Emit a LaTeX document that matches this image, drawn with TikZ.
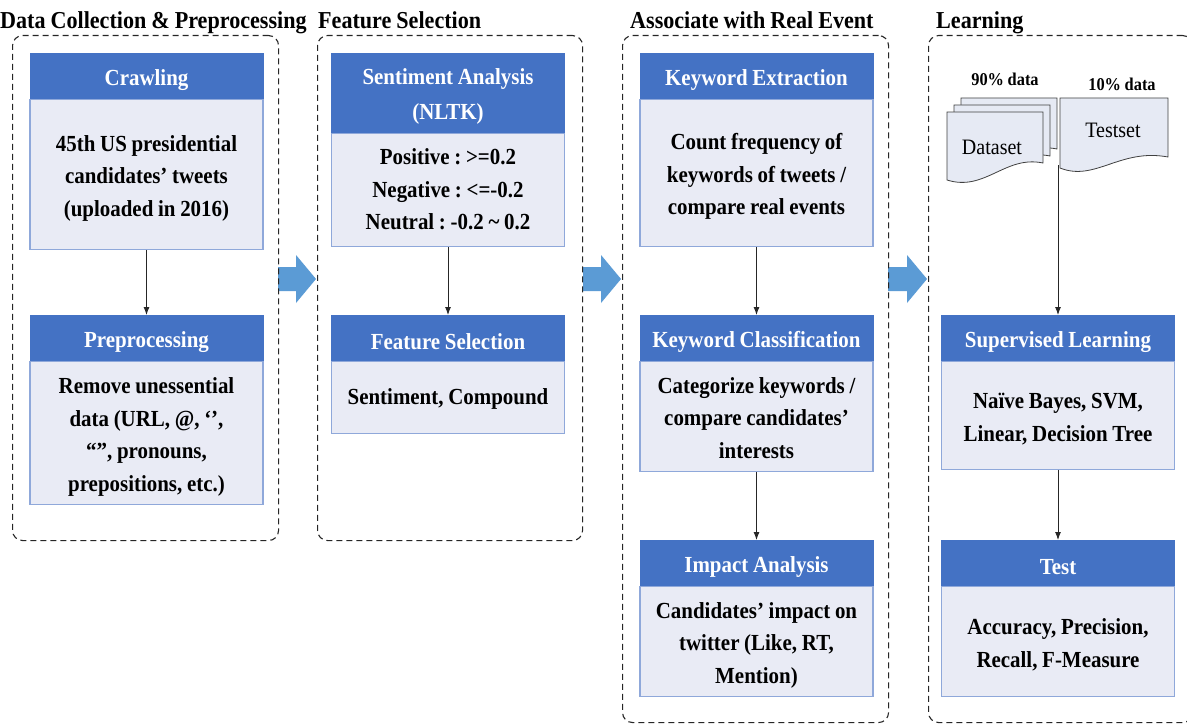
\documentclass[tikz,border=0pt]{standalone}
\usepackage{fontspec}
\setmainfont{Liberation Serif}[FakeStretch=0.91,WordSpace=0.9]
\usetikzlibrary{arrows.meta}
\definecolor{hdr}{HTML}{4472C4}
\definecolor{bdy}{HTML}{E9EBF5}
\definecolor{bdr}{HTML}{8FA8DA}
\definecolor{barrow}{HTML}{5B9BD5}
\definecolor{docfill}{HTML}{E6EAF4}
\newcommand\hlow[1]{\raisebox{-4pt}[\height][\depth]{#1}}
\newcommand\blines[2][3pt]{\raisebox{-#1}[\height][\depth]{\begin{tabular}{@{}c@{}}#2\end{tabular}}}
\begin{document}
\frenchspacing
\begin{tikzpicture}[x=1pt,y=-1pt,
 panel/.style={draw=black!85, dash pattern=on 6pt off 4pt, line width=1.1pt, rounded corners=10pt, anchor=north west, inner sep=0pt},
 ptitle/.style={anchor=base west, inner sep=0pt, font=\fontsize{24.3}{28}\selectfont\bfseries},
 hbox/.style={fill=hdr, draw=hdr, line width=0.8pt, minimum width=233pt, anchor=north, inner sep=0pt, align=center, text=white, font=\fontsize{23}{32.5}\selectfont\bfseries},
 bbox/.style={fill=bdy, draw=bdr, line width=1.2pt, minimum width=233pt, anchor=north, inner sep=0pt, align=center, font=\fontsize{23}{32.5}\selectfont\bfseries},
 conn/.style={draw=black!85, line width=0.9pt, -{Latex[length=8pt,width=6pt]}},
 docst/.style={draw=black!75, line width=0.8pt, fill=docfill},
 doclabel/.style={inner sep=0pt, font=\fontsize{18}{20}\selectfont\bfseries},
 doctext/.style={inner sep=0pt, font=\fontsize{22}{24}\selectfont},
 pics/docsheet/.style={code={\draw[docst] (0,0) -- (96,0) -- (96,51) .. controls (58,43) and (38,80) .. (0,68) -- cycle;}}
]
\clip (0,0) rectangle (1187,725);
% block arrows between stages
\fill[barrow] (278,267) -- (296,267) -- (296,255) -- (316,279) -- (296,303) -- (296,291) -- (278,291) -- cycle;
\fill[barrow] (583,267) -- (601,267) -- (601,255) -- (621,279) -- (601,303) -- (601,291) -- (583,291) -- cycle;
\fill[barrow] (888,267) -- (907,267) -- (907,255) -- (927,279) -- (907,303) -- (907,291) -- (888,291) -- cycle;

% panels
\node[panel, minimum width=266pt, minimum height=505pt] (p1) at (12,35) {};
\node[panel, minimum width=265pt, minimum height=505pt] (p2) at (317,35) {};
\node[panel, minimum width=266pt, minimum height=687pt] (p3) at (622,35) {};
\node[panel, minimum width=264pt, minimum height=687pt] (p4) at (928,35) {};

% titles
\node[ptitle] (t1) at (0,29) {Data Collection \& Preprocessing};
\node[ptitle] (t2) at (318,29) {Feature Selection};
\node[ptitle] (t3) at (630,29) {Associate with Real Event};
\node[ptitle] (t4) at (936,29) {Learning};

% stage 1
\node[hbox, minimum height=45pt] (crh) at (146.5,53) {\hlow{Crawling}};
\node[bbox, minimum height=150pt] (crb) at (crh.south) {\blines{45th US presidential\\candidates’ tweets\\(uploaded in 2016)}};
\node[hbox, minimum height=45pt] (prh) at (146.5,315) {\hlow{Preprocessing}};
\node[bbox, minimum height=143pt] (prb) at (prh.south) {\blines{Remove unessential\\data (URL, @, ‘’,\\“”, pronouns,\\prepositions, etc.)}};

% stage 2
\node[hbox, minimum height=79pt] (sah) at (448,53) {\raisebox{-2pt}[\height][\depth]{\def\arraystretch{1.08}\begin{tabular}{@{}c@{}}Sentiment Analysis\\(NLTK)\end{tabular}}};
\node[bbox, minimum height=113pt] (sab) at (sah.south) {\blines[1pt]{Positive : >=0.2\\Negative : <=-0.2\\Neutral : -0.2 \textasciitilde{} 0.2}};
\node[hbox, minimum height=45pt] (fsh) at (448,315) {\hlow{Feature Selection}};
\node[bbox, minimum height=72pt] (fsb) at (fsh.south) {\blines[1pt]{Sentiment, Compound}};

% stage 3
\node[hbox, minimum height=45pt] (keh) at (756.5,53) {\hlow{Keyword Extraction}};
\node[bbox, minimum height=147pt] (keb) at (keh.south) {\blines{Count frequency of\\keywords of tweets /\\compare real events}};
\node[hbox, minimum height=45pt] (kch) at (756.5,315) {\hlow{Keyword Classification}};
\node[bbox, minimum height=110pt] (kcb) at (kch.south) {\blines{Categorize keywords /\\compare candidates’\\interests}};
\node[hbox, minimum height=45pt] (iah) at (756.5,540) {\hlow{Impact Analysis}};
\node[bbox, minimum height=110pt] (iab) at (iah.south) {\blines{Candidates’ impact on\\twitter (Like, RT,\\Mention)}};

% stage 4: documents
\pic at (961,98) {docsheet};
\pic at (954,105) {docsheet};
\pic at (947,112) {docsheet};
\draw[docst] (1060,98) -- (1168,98) -- (1168,157) .. controls (1120,148) and (1095,182) .. (1060,168) -- cycle;
\node[doctext] (dset) at (992,147) {Dataset};
\node[doctext] (tset) at (1113,130) {Testset};
\node[doclabel] (l90) at (1005,79) {90\% data};
\node[doclabel] (l10) at (1122,84) {10\% data};
\coordinate (dsrc) at (1058,165);

\node[hbox, minimum height=45pt] (slh) at (1058,315) {\hlow{Supervised Learning}};
\node[bbox, minimum height=108pt] (slb) at (slh.south) {\blines{Naïve Bayes, SVM,\\Linear, Decision Tree}};
\node[hbox, minimum height=45pt] (teh) at (1058,540) {\hlow{Test}};
\node[bbox, minimum height=110pt] (teb) at (teh.south) {\blines{Accuracy, Precision,\\Recall, F-Measure}};

% connectors
\draw[conn] (crb.south) -- (prh.north);
\draw[conn] (sab.south) -- (fsh.north);
\draw[conn] (keb.south) -- (kch.north);
\draw[conn] (kcb.south) -- (iah.north);
\draw[conn] (dsrc) -- (slh.north);
\draw[conn] (slb.south) -- (teh.north);
\end{tikzpicture}
\end{document}
